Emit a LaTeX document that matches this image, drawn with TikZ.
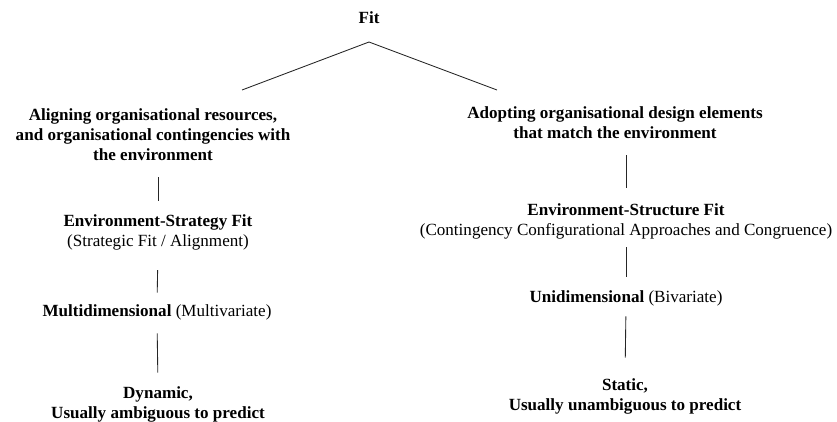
\documentclass[tikz,border=0pt]{standalone}
\usepackage{fontspec}
\setmainfont{Liberation Serif}

\tikzset{
    label/.style={inner sep=0pt, align=center, font=\fontsize{12.8}{15}\selectfont},
    link/.style={line width=0.65pt, black!85}
}

\begin{document}
\begin{tikzpicture}[x=0.75pt, y=-0.75pt]
        \useasboundingbox (0,0) rectangle (837,421);

        % Top of the tree
        \node[label] (fit) at (369,18) {\textbf{Fit}};
        \coordinate (apex) at (369,42);
        \coordinate (lfoot) at (242,90);
        \coordinate (rfoot) at (497,90);
        \draw[link] (lfoot) -- (apex) -- (rfoot);

        % Left branch
        \node[label] (aligning) at (153,135) {\textbf{Aligning organisational resources,}\\\textbf{and organisational contingencies with}\\\textbf{the environment}};
        \node[label] (envstrat) at (158,232) {\textbf{Environment-Strategy Fit}\\(Strategic Fit / Alignment)};
        \node[label] (multi) at (157,312) {\textbf{Multidimensional} (Multivariate)};
        \node[label] (dynamic) at (158,404) {\textbf{Dynamic,}\\\textbf{Usually ambiguous to predict}};

        % Right branch
        \node[label] (adopting) at (615,123) {\textbf{Adopting organisational design elements}\\\textbf{that match the environment}};
        \node[label] (envstruct) at (626,221) {\textbf{Environment-Structure Fit}\\(Contingency Configurational Approaches and Congruence)};
        \node[label] (uni) at (626,298) {\textbf{Unidimensional} (Bivariate)};
        \node[label] (static) at (625,396) {\textbf{Static,}\\\textbf{Usually unambiguous to predict}};

        % Vertical links
        \draw[link, shorten <=12pt, shorten >=10pt] (envstrat.north |- aligning.south) -- (envstrat.north);
        \draw[link, shorten <=15pt, shorten >=8.5pt] (envstrat.south) -- (multi.north);
        \draw[link, shorten <=10pt, shorten >=10pt] (multi.south) -- (dynamic.north);
        \draw[link, shorten <=12pt, shorten >=11pt] (adopting.south -| envstruct.north) -- (envstruct.north);
        \draw[link, shorten <=6.25pt, shorten >=10pt] (envstruct.south) -- (uni.north);
        \draw[link, shorten <=7.75pt, shorten >=15.25pt] (uni.south) -- (static.north);

    \end{tikzpicture}
\end{document}
